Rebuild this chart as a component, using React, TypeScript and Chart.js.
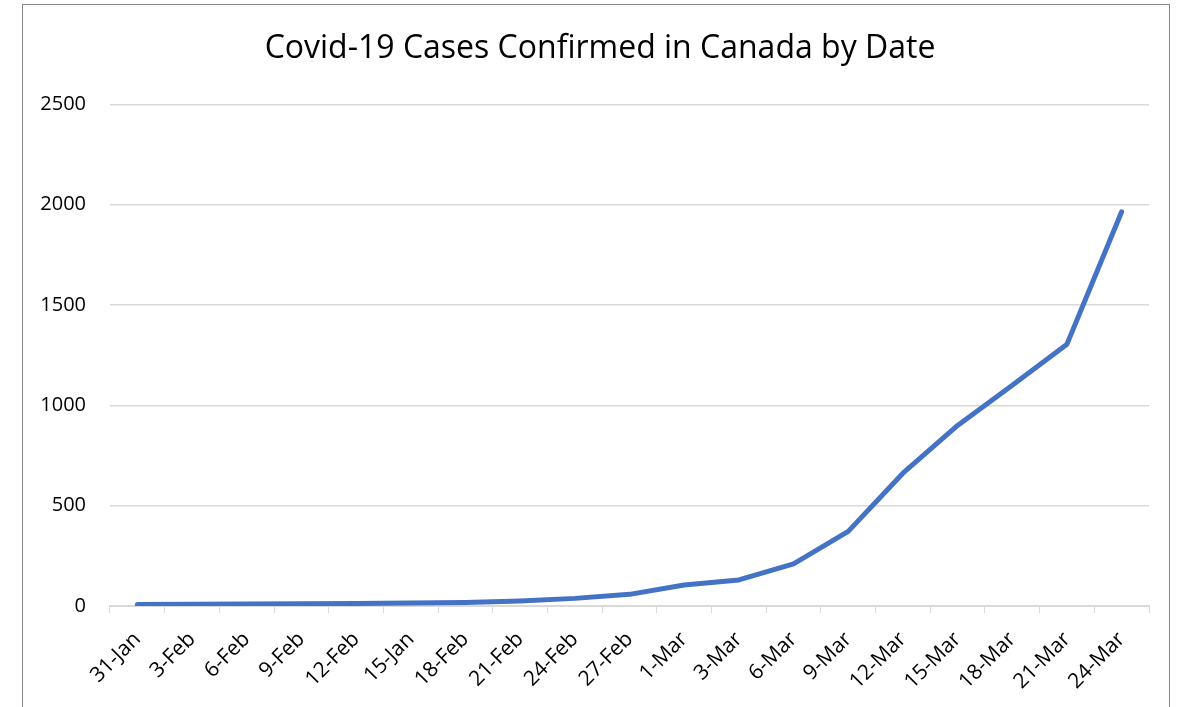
import React, { useEffect, useRef } from "react";
import { Chart, registerables } from "chart.js";

Chart.register(...registerables);

const categories = ["31-Jan", "3-Feb", "6-Feb", "9-Feb", "12-Feb", "15-Jan", "18-Feb", "21-Feb", "24-Feb", "27-Feb", "1-Mar", "3-Mar", "6-Mar", "9-Mar", "12-Mar", "15-Mar", "18-Mar", "21-Mar", "24-Mar"];
const cases = [8, 9, 10, 11, 13, 15, 18, 25, 38, 58, 105, 130, 210, 372, 662, 900, 1100, 1305, 1965];
const yTicks = [0, 500, 1000, 1500, 2000, 2500];
const titleText = "Covid-19 Cases Confirmed in Canada by Date";

const FONT = "'Open Sans', sans-serif";

export default function App() {
  const ref = useRef<HTMLCanvasElement | null>(null);

  useEffect(() => {
    if (!ref.current) return;
    const chart = new Chart(ref.current, {
      type: "line",
      data: {
        labels: categories,
        datasets: [
          {
            label: "Cases",
            data: cases,
            borderColor: "#4472C4",
            backgroundColor: "#4472C4",
            borderWidth: 5,
            borderCapStyle: "round",
            borderJoinStyle: "round",
            pointRadius: 0,
            tension: 0,
            fill: false,
          },
        ],
      },
      options: {
        responsive: false,
        animation: false,
        layout: { padding: { left: 8, right: 0, top: 0, bottom: 0 } },
        plugins: {
          legend: { display: false },
          tooltip: { enabled: false },
          title: {
            display: true,
            text: titleText,
            color: "#000",
            font: { family: FONT, size: 32, weight: "normal" },
            padding: { top: 25, bottom: 36 },
          },
        },
        scales: {
          x: {
            type: "category",
            offset: true,
            grid: {
              offset: true,
              drawOnChartArea: false,
              drawTicks: true,
              tickLength: 7,
              color: "#d9d9d9",
              lineWidth: 1,
            },
            border: { display: true, color: "#d9d9d9", width: 2 },
            ticks: {
              autoSkip: false,
              maxRotation: 45,
              minRotation: 45,
              color: "#000",
              font: { family: FONT, size: 21 },
              padding: 14,
            },
            afterFit: (scale: any) => {
              scale.height = 102;
            },
          },
          y: {
            min: 0,
            max: 2500,
            afterBuildTicks: (scale: any) => {
              scale.ticks = yTicks.map((v) => ({ value: v }));
            },
            grid: { color: "#d9d9d9", lineWidth: 1.5, drawTicks: false },
            border: { display: false },
            ticks: {
              color: "#000",
              font: { family: FONT, size: 20 },
              padding: 24,
              callback: (v: any) => String(v),
            },
            afterFit: (scale: any) => {
              scale.width = 79;
            },
          },
          ySpacer: {
            type: "linear",
            position: "right",
            display: true,
            grid: { display: false },
            border: { display: false },
            ticks: { display: false },
            afterFit: (scale: any) => {
              scale.width = 20;
            },
          },
        },
      },
    });
    return () => chart.destroy();
  }, []);

  return (
    <div
      style={{
        position: "fixed",
        left: 0,
        top: 0,
        width: 1179,
        height: 707,
        overflow: "hidden",
        background: "#fff",
      }}
    >
      <div
        style={{
          position: "absolute",
          left: 22,
          top: 4,
          width: 1148,
          height: 760,
          border: "1px solid #8a8a8a",
          boxSizing: "border-box",
        }}
      />
      <canvas
        ref={ref}
        width={1146}
        height={703}
        style={{ position: "absolute", left: 23, top: 5, width: 1146, height: 703 }}
      />
    </div>
  );
}
